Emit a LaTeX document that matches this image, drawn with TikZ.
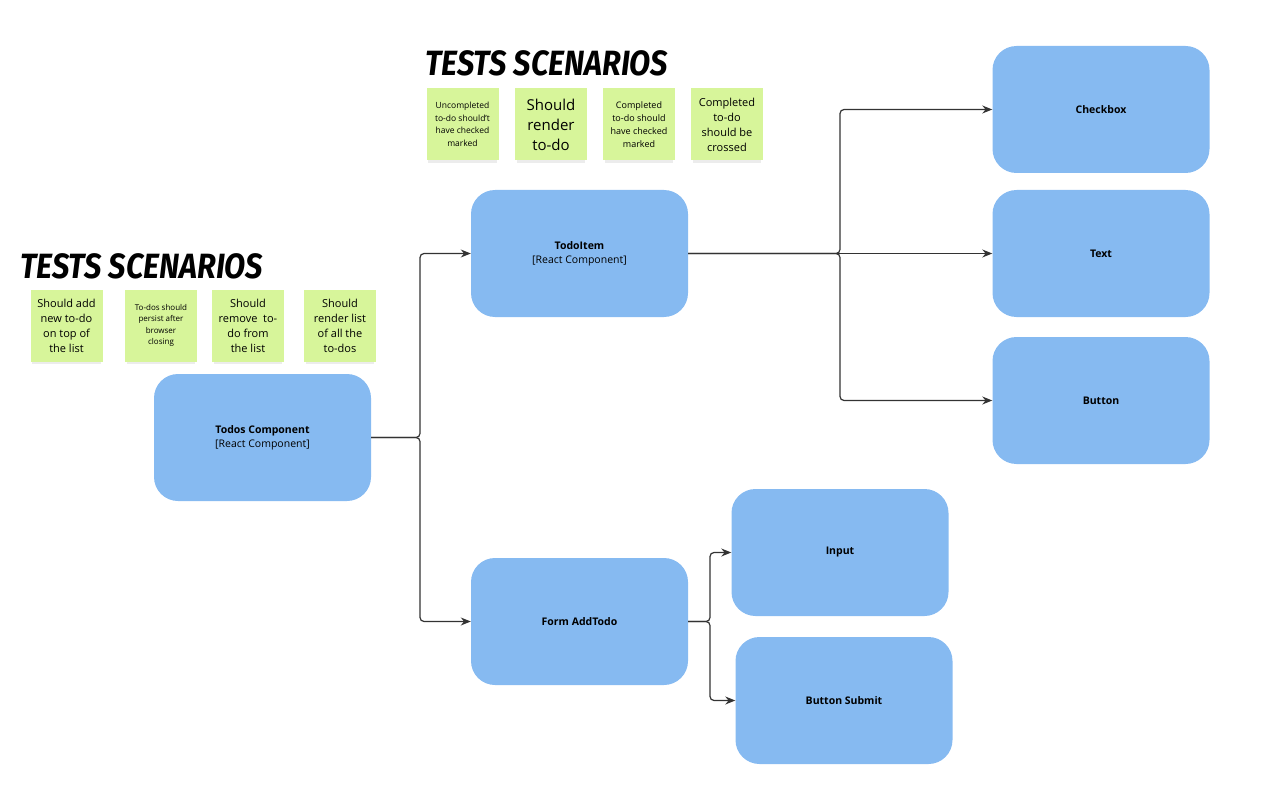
\documentclass[tikz,border=0pt]{standalone}
\usepackage{fontspec}
\usepackage{graphicx}
\setmainfont{Open Sans}
\newfontfamily\brushfont{Fira Sans}
\usetikzlibrary{arrows.meta,positioning,shadows}
\definecolor{compblue}{HTML}{86BAF1}
\definecolor{stickygreen}{HTML}{D7F59A}
\definecolor{linegrey}{HTML}{333333}
\newcommand{\fsz}[2]{\fontsize{#1}{#2}\selectfont}

\begin{document}
\begin{tikzpicture}[
        x=1pt, y=-1pt,
        comp/.style={rectangle, rounded corners=24pt, fill=compblue,
            minimum width=217pt, minimum height=127pt, align=center,
            font=\fontsize{10.5}{14}\selectfont},
        sticky/.style={rectangle, fill=stickygreen, minimum width=72pt, minimum height=72pt,
            align=center, inner sep=1pt,
            drop shadow={shadow xshift=0pt, shadow yshift=-4pt, shadow scale=0.95, opacity=0.15}},
        scen_title/.style={anchor=north west, inner sep=0pt,
            font=\brushfont\bfseries\itshape\fontsize{27}{30}\selectfont},
        link/.style={-{Stealth[length=10pt,width=8pt]}, draw=linegrey, line width=1.2pt,
            rounded corners=4pt}
    ]
    \useasboundingbox (0,0) rectangle (1267,789);

    % Components
    \node[comp] (todos) at (262.5,437.5) {\textbf{Todos Component}\\{}[React Component]};
    \node[comp] (todoitem) at (579.5,253.5) {\textbf{TodoItem}\\{}[React Component]};
    \node[comp] (form) at (579.5,621.5) {\textbf{Form AddTodo}};
    \node[comp] (checkbox) at (1101,109.5) {\textbf{Checkbox}};
    \node[comp] (text) at (1101,253.5) {\textbf{Text}};
    \node[comp] (button) at (1101,400.5) {\textbf{Button}};
    \node[comp] (input) at (840,552.5) {\textbf{Input}};
    \node[comp] (submit) at (844,700.5) {\textbf{Button Submit}};

    % Test scenarios of TodoItem
    \node[scen_title] (title_item) at (425,50) {\scalebox{1.14}[1.3]{TESTS SCENARIOS}};
    \node[sticky, font=\fsz{8.5}{12.5}] (s_unchecked) at (462.5,124.5) {Uncompleted\\to-do should't\\have checked\\marked};
    \node[sticky, font=\fsz{15}{20}] (s_render) at (551,124.5) {Should\\render\\to-do};
    \node[sticky, font=\fsz{9}{13}] (s_checked) at (639,124.5) {Completed\\to-do should\\have checked\\marked};
    \node[sticky, font=\fsz{11}{15}] (s_crossed) at (727,124.5) {Completed\\to-do\\should be\\crossed};

    % Test scenarios of Todos
    \node[scen_title] (title_todos) at (20,253) {\scalebox{1.14}[1.3]{TESTS SCENARIOS}};
    \node[sticky, font=\fsz{11}{15}] (s_add) at (66.5,325.5) {Should add\\new to-do\\on top of\\the list};
    \node[sticky, font=\fsz{8}{11.5}] (s_persist) at (161,325.5) {To-dos should\\persist after\\browser\\closing};
    \node[sticky, font=\fsz{11}{15}] (s_remove) at (248,325.5) {Should\\remove\ \ to-\\do from\\the list};
    \node[sticky, font=\fsz{11}{15}] (s_list) at (340,325.5) {Should\\render list\\of all the\\to-dos};

    % Branch points
    \coordinate (split_todos) at (420,437.5);
    \coordinate (split_item) at (840,253.5);
    \coordinate (split_form) at (710,621.5);

    % Connectors
    \draw[link] (todos.east) -- (split_todos) |- (todoitem.west);
    \draw[link] (todos.east) -- (split_todos) |- (form.west);
    \draw[link] (todoitem.east) -- (split_item) |- (checkbox.west);
    \draw[link] (todoitem.east) -- (text.west);
    \draw[link] (todoitem.east) -- (split_item) |- (button.west);
    \draw[link] (form.east) -- (split_form) |- (input.west);
    \draw[link] (form.east) -- (split_form) |- (submit.west);
\end{tikzpicture}
\end{document}
